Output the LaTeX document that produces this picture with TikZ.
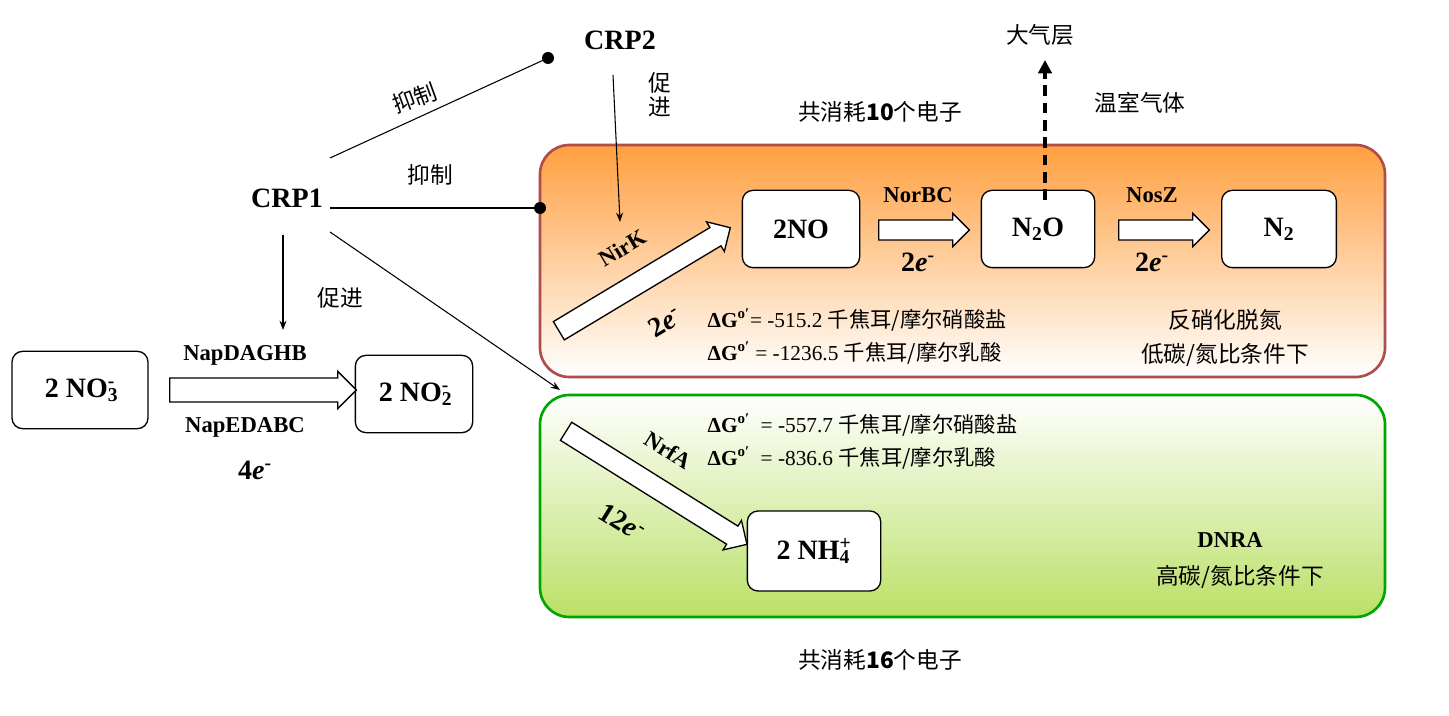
\documentclass[tikz,border=0pt]{standalone}
\usepackage{fontspec}
\setmainfont{Liberation Serif}
\newfontfamily\cjk{Noto Sans CJK SC}
\usetikzlibrary{shapes.arrows,arrows.meta}
\newcommand{\subsup}[2]{\rlap{\textsubscript{#1}}\textsuperscript{#2}}
\newcommand{\dg}{\textbf{ΔG\textsuperscript{o′}}}
\begin{document}
\begin{tikzpicture}[x=0.75pt,y=-0.75pt,
  lbl/.style={font=\bfseries\fontsize{17}{20}\selectfont},
  big/.style={font=\bfseries\fontsize{21}{24}\selectfont},
  zh/.style={font=\cjk\fontsize{17}{20}\selectfont},
  sm/.style={font=\fontsize{16}{19}\selectfont},
  box/.style={draw,rounded corners=8pt,line width=1pt,fill=white,big,minimum height=58pt,inner sep=0},
  open/.style={single arrow,draw,fill=white,line width=1pt,single arrow head extend=5pt,inner sep=0,single arrow tip angle=90},
  ln/.style={line width=0.8pt},
  ar/.style={ln,-{Stealth[length=7pt]}}]
\useasboundingbox (0,0) rectangle (1449,716);
% panels
\draw[rounded corners=22pt,line width=2pt,draw=red!55!black!70,top color=orange!75,bottom color=white] (540,145) rectangle (1385,377);
\draw[rounded corners=22pt,line width=2pt,draw=green!65!black,top color=white,bottom color=green!55!black!45!yellow!60] (540,395) rectangle (1385,617);
% CRP
\node[big] (crp2) at (620,40) {CRP2};
\node[big] (crp1) at (287,198) {CRP1};
\coordinate (d1) at (548,58);
\coordinate (d2) at (540,208);
\fill (d1) circle (4.5pt); \fill (d2) circle (4.5pt);
\draw[ln] (330,158) -- (d1);
\draw[ln] (330,208) -- (d2);
\node[zh,rotate=20] at (415,98) {抑制};
\node[zh] at (430,175) {抑制};
\node[zh,align=center] at (660,95) {促\\[-2pt]进};
\coordinate (a1) at (620,222);
\draw[ar] (613,75) -- (a1);
\coordinate (a2) at (560,390);
\draw[ar] (330,232) -- (a2);
\coordinate (a3) at (283,330);
\draw[ar] (283,235) -- (a3);
\node[zh] at (340,298) {促进};
% left boxes
\node[box,minimum width=102pt] (no3) at (80,390) {2 NO\subsup{3}{-}};
\node[box,minimum width=88pt] (no2) at (414,394) {2 NO\subsup{2}{-}};
\node[open,minimum height=140pt] (ar1) at (257,390) {\rule{0pt}{17pt}};
\node[lbl] at (245,355) {NapDAGHB};
\node[lbl] at (245,427) {NapEDABC};
\node[big] at (255,470) {4\textit{e}\textsuperscript{-}};
% top
\node[zh] at (880,112) {共消耗\textbf{10}个电子};
\node[zh] (atm) at (1040,35) {大气层};
\node[zh] at (1140,103) {温室气体};
\node[box,minimum width=88pt] (no) at (801,229) {2NO};
\node[box,minimum width=85pt] (n2o) at (1038,229) {N\textsubscript{2}O};
\node[box,minimum width=86pt] (n2) at (1279,229) {N\textsubscript{2}};
\draw[line width=2.5pt,dash pattern=on 8pt off 5pt,-{Triangle[length=10pt,width=10pt]}] (1045,200) -- (1045,60);
\node[open,minimum height=68pt] at (919,230) {\rule{0pt}{14pt}};
\node[open,minimum height=68pt] at (1159,230) {\rule{0pt}{14pt}};
\node[lbl] at (918,195) {NorBC};
\node[lbl] at (1152,195) {NosZ};
\node[big] at (918,262) {2\textit{e}\textsuperscript{-}};
\node[big] at (1152,262) {2\textit{e}\textsuperscript{-}};
\node[open,minimum height=150pt,rotate=31] at (640,282) {\rule{0pt}{15pt}};
\node[lbl,rotate=31] at (622,248) {NirK};
\node[big,rotate=31] at (665,322) {2\textit{e}\textsuperscript{-}};
\node[sm,anchor=west] at (703,320) {\dg= -515.2 {\cjk 千焦耳/摩尔硝酸盐}};
\node[sm,anchor=west] at (703,353) {\dg\ = -1236.5 {\cjk 千焦耳/摩尔乳酸}};
\node[zh] at (1225,320) {反硝化脱氮};
\node[zh] at (1225,355) {低碳/氮比条件下};
% bottom
\node[sm,anchor=west] at (703,425) {\dg\ \ = -557.7 {\cjk 千焦耳/摩尔硝酸盐}};
\node[sm,anchor=west] at (703,458) {\dg\ \ = -836.6 {\cjk 千焦耳/摩尔乳酸}};
\node[open,minimum height=160pt,rotate=-32] at (652,485) {\rule{0pt}{15pt}};
\node[lbl,rotate=-32] at (668,450) {NrfA};
\node[big,rotate=-32] at (622,522) {12\textit{e}\textsuperscript{-}};
\node[box,minimum width=100pt,minimum height=60pt] (nh4) at (814,551) {2 NH\subsup{4}{+}};
\node[lbl] at (1230,540) {DNRA};
\node[zh] at (1240,577) {高碳/氮比条件下};
\node[zh] at (880,660) {共消耗\textbf{16}个电子};
\end{tikzpicture}
\end{document}
